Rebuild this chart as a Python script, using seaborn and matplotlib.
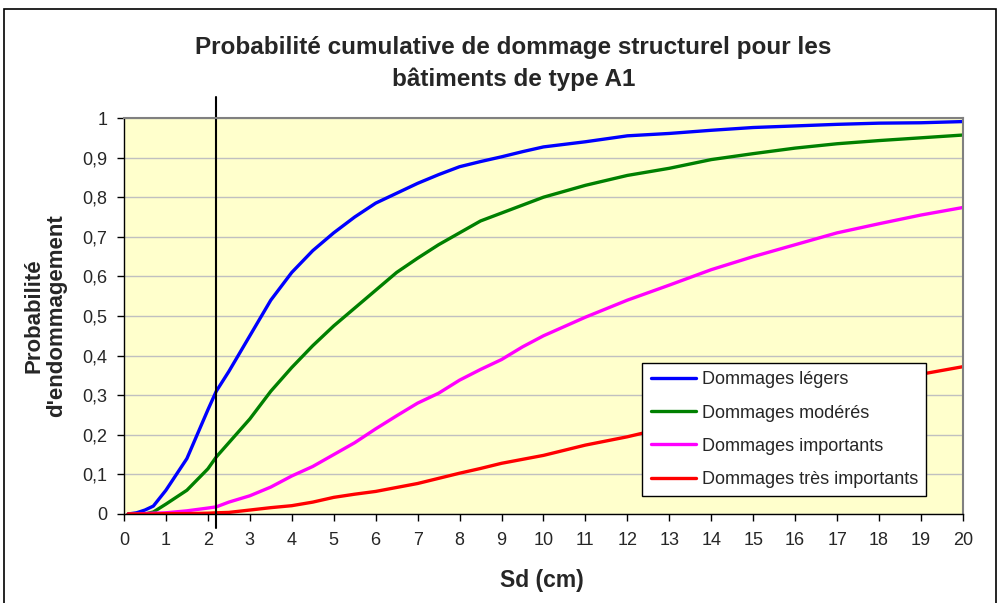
import matplotlib
matplotlib.use("Agg")
import matplotlib.pyplot as plt
from matplotlib.patches import Rectangle
import seaborn as sns
import pandas as pd

# Sd (cm) sample points
sd = [0.1, 0.3, 0.5, 0.7, 1.0, 1.5, 2.0, 2.2, 2.5, 3.0, 3.5, 4.0, 4.5, 5.0, 5.5,
      6.0, 6.5, 7.0, 7.5, 8.0, 8.5, 9.0, 9.5, 10, 11, 12, 13, 14, 15, 16, 17, 18, 19, 20]

legers = [0.0, 0.003, 0.01, 0.02, 0.06, 0.14, 0.263, 0.31, 0.36, 0.45, 0.54, 0.61, 0.665, 0.71, 0.75,
          0.785, 0.81, 0.835, 0.857, 0.877, 0.89, 0.902, 0.915, 0.927, 0.94, 0.955, 0.961, 0.969,
          0.976, 0.98, 0.984, 0.987, 0.988, 0.991]
moderes = [0.0, 0.0, 0.0, 0.005, 0.025, 0.06, 0.114, 0.144, 0.18, 0.24, 0.31, 0.37, 0.425, 0.475, 0.52,
           0.565, 0.61, 0.646, 0.68, 0.71, 0.74, 0.76, 0.78, 0.80, 0.83, 0.855, 0.873, 0.895,
           0.91, 0.924, 0.935, 0.943, 0.95, 0.957]
importants = [0.0, 0.0, 0.001, 0.002, 0.003, 0.008, 0.015, 0.018, 0.03, 0.046, 0.068, 0.096, 0.12, 0.15, 0.18,
              0.215, 0.248, 0.28, 0.305, 0.338, 0.365, 0.39, 0.422, 0.45, 0.497, 0.54, 0.578, 0.617,
              0.65, 0.68, 0.71, 0.733, 0.755, 0.774]
tres_importants = [0.0, 0.0, 0.0, 0.0, 0.001, 0.001, 0.002, 0.003, 0.004, 0.01, 0.016, 0.021, 0.03, 0.042, 0.05,
                   0.057, 0.067, 0.077, 0.09, 0.103, 0.115, 0.128, 0.138, 0.148, 0.174, 0.195, 0.22, 0.245,
                   0.27, 0.293, 0.316, 0.336, 0.353, 0.372]

series = ["Dommages légers", "Dommages modérés", "Dommages importants", "Dommages très importants"]
colors = ["#0000FF", "#008000", "#FF00FF", "#FF0000"]
yticks = [0, 0.1, 0.2, 0.3, 0.4, 0.5, 0.6, 0.7, 0.8, 0.9, 1]
ytick_labels = ["0", "0,1", "0,2", "0,3", "0,4", "0,5", "0,6", "0,7", "0,8", "0,9", "1"]
xticks = list(range(0, 21))
sd_marker = 2.2

df = pd.concat([
    pd.DataFrame({"Sd": sd, "p": vals, "serie": name})
    for name, vals in zip(series, [legers, moderes, importants, tres_importants])
])

sns.set_style("white")
plt.rcParams["font.family"] = ["Liberation Sans", "DejaVu Sans"]

fig = plt.figure(figsize=(9.99, 6.03), dpi=100)
ax = fig.add_axes([0.1241, 0.1476, 0.8398, 0.6567])
ax.set_facecolor("#FFFFCC")

sns.lineplot(data=df, x="Sd", y="p", hue="serie", hue_order=series,
             palette=dict(zip(series, colors)), linewidth=2.4, ax=ax, legend=False)

ax.set_xlim(0, 20)
ax.set_ylim(0, 1)
ax.set_xticks(xticks)
ax.set_xticklabels([str(t) for t in xticks], fontsize=13)
ax.set_yticks(yticks)
ax.set_yticklabels(ytick_labels, fontsize=13)
ax.grid(axis="y", color="#C0C0C0", linewidth=1)
ax.set_axisbelow(True)
ax.tick_params(axis="y", direction="out", length=5, width=1, color="#000000", left=True, pad=7)
ax.tick_params(axis="x", direction="out", length=5, width=1, color="#000000", bottom=True, pad=8)
for side in ["top", "right"]:
    ax.spines[side].set_color("#808080")
    ax.spines[side].set_linewidth(1.5)
for side in ["left", "bottom"]:
    ax.spines[side].set_color("#000000")
    ax.spines[side].set_linewidth(1)
ax.set_xlabel("")
ax.set_ylabel("")

ax.axvline(sd_marker, ymin=-0.035, ymax=1.053, color="black", linewidth=1.5, clip_on=False)

fig.text(542 / 999, 1 - 580 / 603, "Sd (cm)", ha="center", va="center",
         fontsize=16.5, fontweight="bold")
fig.text(45.5 / 999, 1 - 316 / 603, "Probabilité\nd'endommagement", ha="center", va="center",
         rotation=90, fontsize=16, fontweight="bold", linespacing=1.1)
fig.text(0.514, 1 - 63.5 / 603, "Probabilité cumulative de dommage structurel pour les\nbâtiments de type A1",
         ha="center", va="center", fontsize=17.5, fontweight="bold", linespacing=1.5)

handles = [plt.Line2D([], [], color=c, linewidth=2.4) for c in colors]
leg = ax.legend(handles, series, loc="lower right", bbox_to_anchor=(0.956, 0.045),
                fontsize=13, frameon=True, fancybox=False, framealpha=1,
                edgecolor="black", handlelength=2.5, handletextpad=0.33,
                labelspacing=0.9, borderpad=0.45, borderaxespad=0)
leg.get_frame().set_linewidth(1)

fig.patches.append(Rectangle((4 / 999, -0.1), 992 / 999, 1.1 - 9 / 603,
                             transform=fig.transFigure, fill=False,
                             edgecolor="black", linewidth=1.2))

fig.savefig("out.png", dpi=100)
